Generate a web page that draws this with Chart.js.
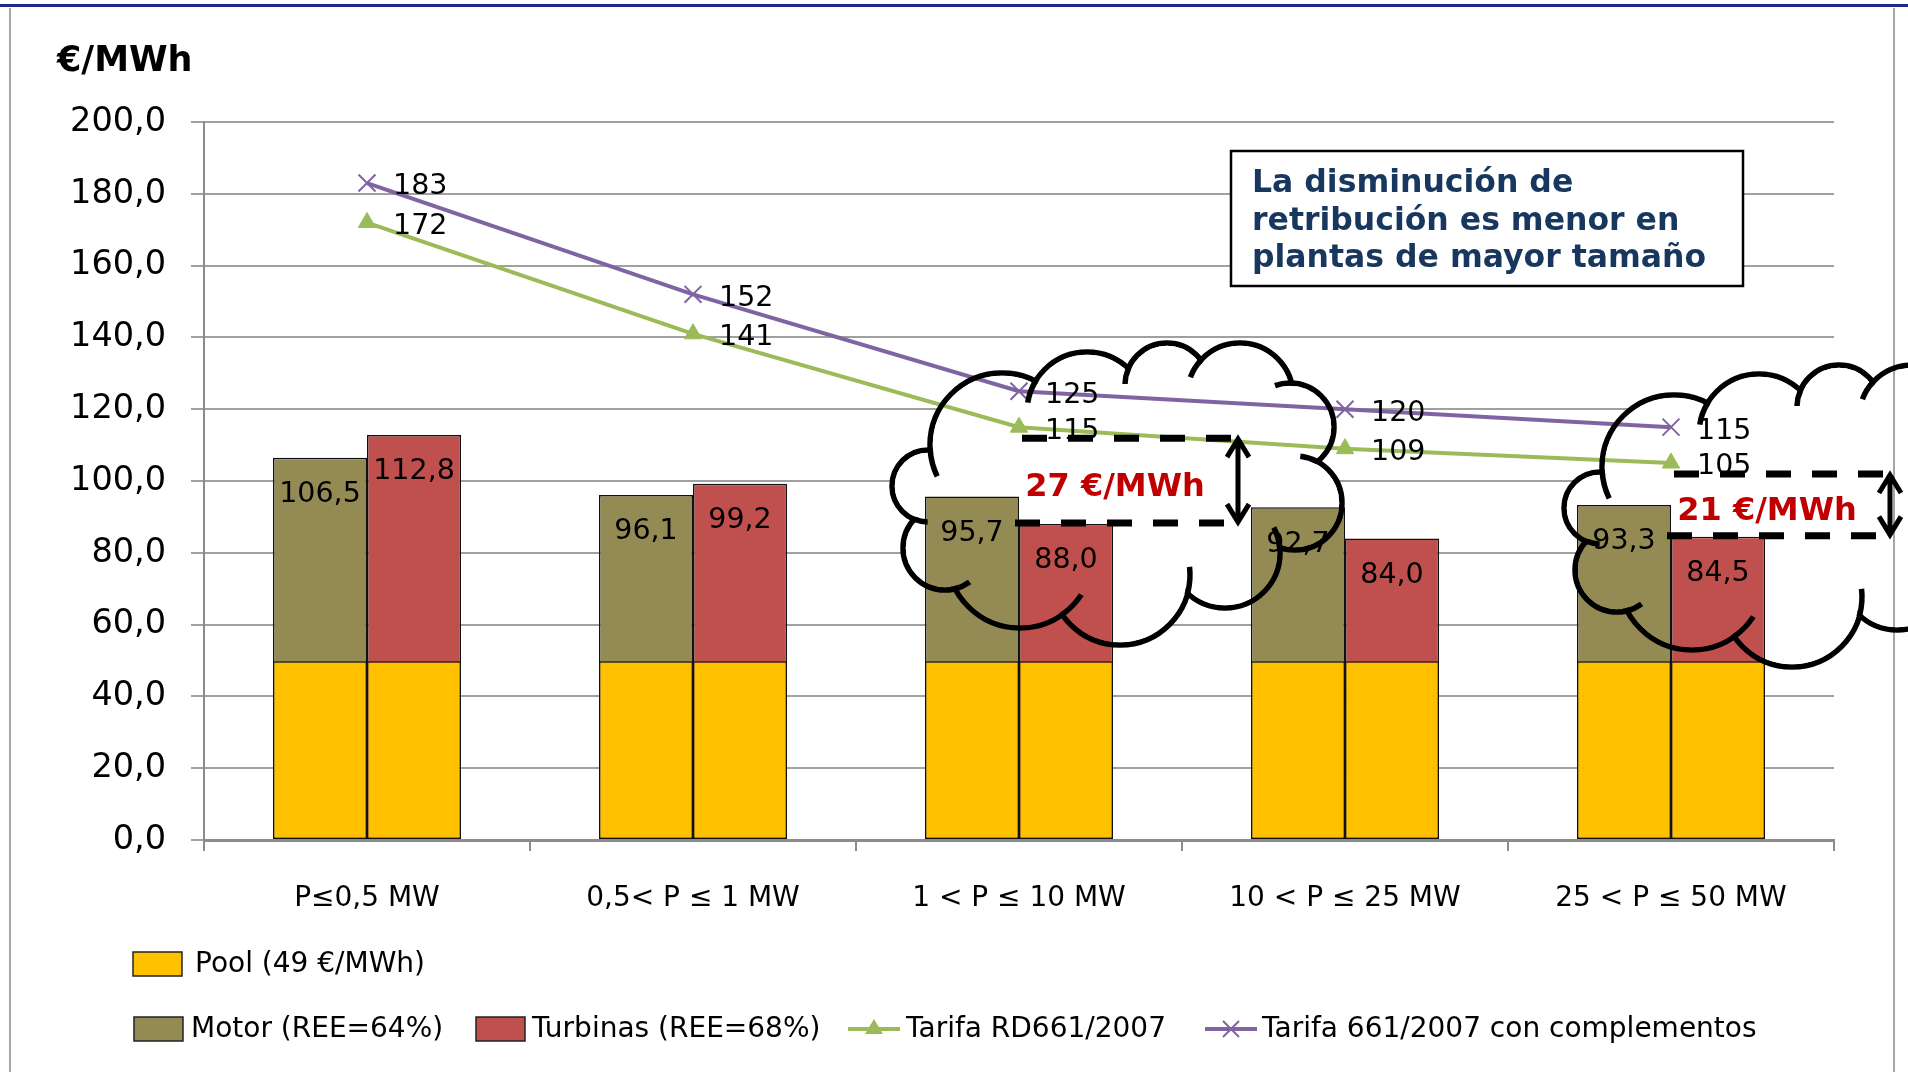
<!DOCTYPE html>
<html>
<head>
<meta charset="utf-8">
<script src="https://cdn.jsdelivr.net/npm/chart.js@4/dist/chart.umd.min.js"></script>
<style>
    html, body { margin: 0; padding: 0; background: #fff; }
    canvas { display: block; }
</style>
</head>
<body>
<canvas id="chart" width="1908" height="1072"></canvas>
<script>
// ---------- datos ----------
const categories = ["P≤0,5 MW", "0,5< P ≤ 1 MW", "1 < P ≤ 10 MW", "10 < P ≤ 25 MW", "25 < P ≤ 50 MW"];
const pool = [49.8, 49.8, 49.8, 49.8, 49.8];
const motor = [106.5, 96.1, 95.7, 92.7, 93.3];
const turbinas = [112.8, 99.2, 88.0, 84.0, 84.5];
const tarifaRD = [172, 141, 115, 109, 105];
const tarifaCompl = [183, 152, 125, 120, 115];
const seriesNames = ["Pool (49 €/MWh)", "Motor (REE=64%)", "Turbinas (REE=68%)", "Tarifa RD661/2007", "Tarifa 661/2007 con complementos"];
const gapCats = [2, 4];
const gapTexts = ["27 €/MWh", "21 €/MWh"];
const noteLines = ["La disminución de", "retribución es menor en", "plantas de mayor tamaño"];

const FONT = "'DejaVu Sans', sans-serif";
const C_POOL = "#ffc000", C_MOTOR = "#948a54", C_TURB = "#c0504d";
const C_GREEN = "#9bbb59", C_PURPLE = "#8064a2";

const fmt = v => v.toFixed(1).replace(".", ",");

// nube: lobulos (dx, dy, r) alrededor del lobulo izquierdo, en sentido horario
const LOBES = [
    [0, 0, 36], [74, -41, 72], [159, -74, 60], [239, -101, 42], [312, -90, 53],
    [362, -59, 44], [367, 17, 47], [297, 67, 55], [192, 89, 70], [92, 69, 73], [17, 62, 42]
];
const cloudAnchors = [[928, 486], [1600, 508]];

function cloudCircles(a) {
    return LOBES.map(([dx, dy, r]) => ({ x: a[0] + dx, y: a[1] + dy, r }));
}

function cloudPath(c, circles, shrink) {
    circles.forEach(k => { c.beginPath(); c.arc(k.x, k.y, k.r - shrink, 0, Math.PI * 2); c.fill(); });
    c.beginPath();
    circles.forEach((k, i) => i ? c.lineTo(k.x, k.y) : c.moveTo(k.x, k.y));
    c.closePath();
    c.fill();
}

function intersect(a, b) {
    const dx = b.x - a.x, dy = b.y - a.y, d = Math.hypot(dx, dy);
    if (d > a.r + b.r || d < Math.abs(a.r - b.r)) return null;
    const l = (a.r * a.r - b.r * b.r + d * d) / (2 * d);
    const h = Math.sqrt(a.r * a.r - l * l);
    const mx = a.x + dx * l / d, my = a.y + dy * l / d;
    return [{ x: mx + h * dy / d, y: my - h * dx / d }, { x: mx - h * dy / d, y: my + h * dx / d }];
}

function strokeCloud(ctx, circles, lw) {
    const off = document.createElement("canvas");
    off.width = ctx.canvas.width;
    off.height = ctx.canvas.height;
    const o = off.getContext("2d");
    o.lineWidth = lw;
    o.strokeStyle = "#000";
    circles.forEach(k => { o.beginPath(); o.arc(k.x, k.y, k.r, 0, Math.PI * 2); o.stroke(); });
    o.globalCompositeOperation = "destination-out";
    cloudPath(o, circles, lw / 2);
    o.globalCompositeOperation = "source-over";

    // pequeños ganchos interiores
    const gx = circles.reduce((s, k) => s + k.x, 0) / circles.length;
    const gy = circles.reduce((s, k) => s + k.y, 0) / circles.length;
    const HOOK = 0.38;
    for (let i = 0; i < circles.length; i++) {
        const a = circles[i], b = circles[(i + 1) % circles.length];
        const pts = intersect(a, b);
        if (!pts) continue;
        const p = Math.hypot(pts[0].x - gx, pts[0].y - gy) > Math.hypot(pts[1].x - gx, pts[1].y - gy) ? pts[0] : pts[1];
        const th = Math.atan2(p.y - b.y, p.x - b.x);
        for (const s of [1, -1]) {
            const t2 = th + s * HOOK;
            const qx = b.x + b.r * Math.cos(t2), qy = b.y + b.r * Math.sin(t2);
            if (Math.hypot(qx - a.x, qy - a.y) < a.r) {
                o.beginPath();
                o.arc(b.x, b.y, b.r, Math.min(th, t2), Math.max(th, t2));
                o.stroke();
                break;
            }
        }
    }
    ctx.drawImage(off, 0, 0);
}

function drawArrow(ctx, x, y1, y2) {
    ctx.save();
    ctx.strokeStyle = "#000";
    ctx.lineWidth = 5;
    ctx.lineCap = "butt";
    ctx.beginPath();
    ctx.moveTo(x, y1); ctx.lineTo(x, y2);
    ctx.moveTo(x - 11, y1 + 19); ctx.lineTo(x, y1 + 1); ctx.lineTo(x + 11, y1 + 19);
    ctx.moveTo(x - 11, y2 - 19); ctx.lineTo(x, y2 - 1); ctx.lineTo(x + 11, y2 - 19);
    ctx.stroke();
    ctx.restore();
}

function drawLegend(ctx) {
    ctx.save();
    ctx.font = "28px " + FONT;
    ctx.fillStyle = "#000";
    ctx.textBaseline = "middle";
    ctx.textAlign = "left";
    const box = (x, y, col) => {
        ctx.fillStyle = col;
        ctx.fillRect(x, y - 12, 49, 24);
        ctx.strokeStyle = "#222";
        ctx.lineWidth = 1.5;
        ctx.strokeRect(x, y - 12, 49, 24);
        ctx.fillStyle = "#000";
    };
    box(133, 964, C_POOL);
    ctx.fillText(seriesNames[0], 195, 965);
    box(134, 1029, C_MOTOR);
    ctx.fillText(seriesNames[1], 191, 1030);
    box(476, 1029, C_TURB);
    ctx.fillText(seriesNames[2], 532, 1030);

    ctx.lineWidth = 4;
    ctx.strokeStyle = C_GREEN;
    ctx.beginPath(); ctx.moveTo(848, 1029); ctx.lineTo(900, 1029); ctx.stroke();
    ctx.fillStyle = C_GREEN;
    ctx.beginPath(); ctx.moveTo(874, 1019); ctx.lineTo(883, 1034); ctx.lineTo(865, 1034); ctx.closePath(); ctx.fill();
    ctx.fillStyle = "#000";
    ctx.fillText(seriesNames[3], 906, 1030);

    ctx.strokeStyle = C_PURPLE;
    ctx.beginPath(); ctx.moveTo(1205, 1029); ctx.lineTo(1257, 1029); ctx.stroke();
    ctx.lineWidth = 2;
    ctx.beginPath();
    ctx.moveTo(1223, 1021); ctx.lineTo(1239, 1037);
    ctx.moveTo(1239, 1021); ctx.lineTo(1223, 1037);
    ctx.stroke();
    ctx.fillText(seriesNames[4], 1262, 1030);
    ctx.restore();
}

const decorPlugin = {
    id: "decor",
    beforeDraw(chart) {
        const ctx = chart.ctx;
        ctx.save();
        ctx.fillStyle = "#fff";
        ctx.fillRect(0, 0, chart.width, chart.height);
        ctx.restore();
    },
    beforeDatasetsDraw(chart) {
        const ctx = chart.ctx;
        ctx.save();
        ctx.fillStyle = "#fff";
        cloudAnchors.forEach(a => cloudPath(ctx, cloudCircles(a), 0));
        ctx.restore();
    },
    afterDatasetsDraw(chart) {
        const ctx = chart.ctx;
        const xs = chart.scales.x, ys = chart.scales.y;

        // etiquetas de datos
        ctx.save();
        ctx.font = "28.5px " + FONT;
        ctx.fillStyle = "#000";
        chart.data.datasets.forEach((ds, di) => {
            if (!ds.showValues) return;
            const meta = chart.getDatasetMeta(di);
            meta.data.forEach((el, i) => {
                const v = ds.data[i];
                if (ds.type === "line") {
                    ctx.textAlign = "left";
                    ctx.textBaseline = "middle";
                    ctx.fillText(String(v), el.x + 26, el.y + 4);
                } else {
                    ctx.textAlign = "center";
                    ctx.textBaseline = "middle";
                    ctx.fillText(fmt(v), el.x, el.y + 37);
                }
            });
        });
        ctx.restore();

        // marco
        ctx.save();
        ctx.fillStyle = "#1c2a8c";
        ctx.fillRect(0, 4, chart.width, 3);
        ctx.strokeStyle = "#a6a6a6";
        ctx.lineWidth = 2;
        ctx.beginPath();
        ctx.moveTo(10, 8); ctx.lineTo(10, chart.height);
        ctx.moveTo(1894, 8); ctx.lineTo(1894, chart.height);
        ctx.stroke();
        ctx.restore();

        // nubes
        cloudAnchors.forEach(a => strokeCloud(ctx, cloudCircles(a), 5.5));

        // diferencias
        gapCats.forEach((cat, k) => {
            const cx = xs.getPixelForValue(cat);
            const yTop = ys.getPixelForValue(tarifaRD[cat]) + 11;
            const yBot = ys.getPixelForValue(turbinas[cat]) - 1;
            ctx.save();
            ctx.strokeStyle = "#000";
            ctx.lineWidth = 7;
            ctx.setLineDash([25, 21]);
            ctx.beginPath();
            ctx.moveTo(cx + 3, yTop); ctx.lineTo(cx + 220, yTop);
            ctx.moveTo(cx - 4, yBot); ctx.lineTo(cx + 212, yBot);
            ctx.stroke();
            ctx.setLineDash([]);
            ctx.fillStyle = "#c00000";
            ctx.font = "bold 32px " + FONT;
            ctx.textAlign = "center";
            ctx.textBaseline = "middle";
            ctx.fillText(gapTexts[k], cx + 96, (yTop + yBot) / 2 + 7);
            ctx.restore();
            drawArrow(ctx, cx + 219, yTop, yBot);
        });

        // recuadro de texto
        ctx.save();
        ctx.fillStyle = "#fff";
        ctx.fillRect(1231, 151, 512, 135);
        ctx.strokeStyle = "#000";
        ctx.lineWidth = 2.5;
        ctx.strokeRect(1231, 151, 512, 135);
        ctx.fillStyle = "#17375e";
        ctx.font = "bold 31.5px " + FONT;
        ctx.textAlign = "left";
        ctx.textBaseline = "middle";
        noteLines.forEach((t, i) => ctx.fillText(t, 1252, 184 + i * 37.5));
        ctx.restore();

        // titulo eje
        ctx.save();
        ctx.fillStyle = "#000";
        ctx.font = "bold 35px " + FONT;
        ctx.textAlign = "left";
        ctx.textBaseline = "middle";
        ctx.fillText("€/MWh", 57, 62);
        ctx.restore();

        drawLegend(ctx);
    }
};

const barBase = { type: "bar", borderColor: "#111", borderWidth: 1.5, borderSkipped: false, order: 1 };

new Chart(document.getElementById("chart").getContext("2d"), {
    type: "bar",
    data: {
        labels: categories,
        datasets: [
            {
                type: "line", label: seriesNames[3], data: tarifaRD, order: 0, showValues: true,
                borderColor: C_GREEN, backgroundColor: C_GREEN, borderWidth: 4, tension: 0,
                pointStyle: "triangle", pointRadius: 10, pointBackgroundColor: C_GREEN, pointBorderColor: C_GREEN, pointBorderWidth: 1
            },
            {
                type: "line", label: seriesNames[4], data: tarifaCompl, order: 0, showValues: true,
                borderColor: C_PURPLE, backgroundColor: C_PURPLE, borderWidth: 4, tension: 0,
                pointStyle: "crossRot", pointRadius: 12, pointBorderColor: C_PURPLE, pointBorderWidth: 2
            },
            { ...barBase, label: seriesNames[0], data: pool, stack: "m", backgroundColor: C_POOL },
            { ...barBase, label: seriesNames[1], data: motor, stack: "m", backgroundColor: C_MOTOR, showValues: true },
            { ...barBase, label: seriesNames[0], data: pool, stack: "t", backgroundColor: C_POOL },
            { ...barBase, label: seriesNames[2], data: turbinas, stack: "t", backgroundColor: C_TURB, showValues: true }
        ]
    },
    options: {
        responsive: false,
        animation: false,
        devicePixelRatio: 1,
        layout: { padding: { top: 122, right: 74, left: 0, bottom: 0 } },
        datasets: { bar: { categoryPercentage: 0.577, barPercentage: 1 } },
        plugins: { legend: { display: false }, tooltip: { enabled: false } },
        scales: {
            x: {
                stacked: true,
                offset: true,
                grid: { offset: true, drawOnChartArea: false, tickLength: 11, color: "#8c8c8c", lineWidth: 2 },
                border: { color: "#8c8c8c", width: 3 },
                ticks: { color: "#000", font: { family: FONT, size: 28 }, padding: 31, maxRotation: 0, autoSkip: false },
                afterFit: s => { s.height = 232; }
            },
            y: {
                stacked: false,
                min: 0,
                max: 200,
                grid: { color: "#a0a0a0", lineWidth: 2, tickLength: 13 },
                border: { color: "#8c8c8c", width: 2 },
                ticks: { stepSize: 20, color: "#000", font: { family: FONT, size: 33.5 }, padding: 25, callback: v => fmt(v) },
                afterFit: s => { s.width = 204; }
            }
        }
    },
    plugins: [decorPlugin]
});
</script>
</body>
</html>
